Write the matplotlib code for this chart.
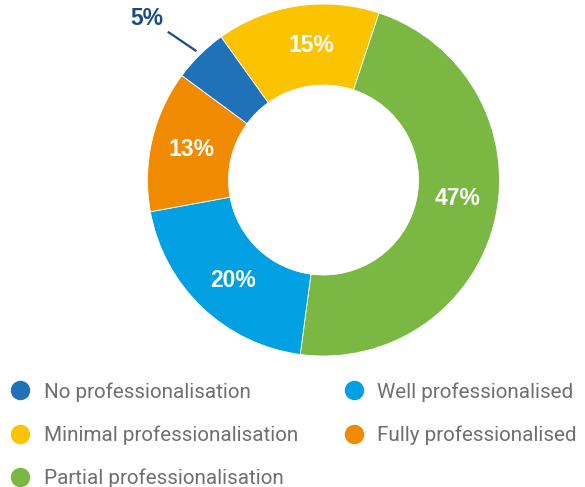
import numpy as np
import matplotlib
matplotlib.use("Agg")
import matplotlib.pyplot as plt
from matplotlib.lines import Line2D

# Share of organisations by level of professionalisation (clockwise from top)
categories = ["Minimal professionalisation", "Partial professionalisation",
              "Well professionalised", "Fully professionalised",
              "No professionalisation"]
shares = [15, 47, 20, 13, 5]
colors = ["#fcc400", "#7ab843", "#00a0e2", "#f08a00", "#1f72b8"]

legend_order = ["No professionalisation", "Minimal professionalisation",
                "Partial professionalisation", "Well professionalised",
                "Fully professionalised"]

# small angular nudges (degrees) for the in-ring value labels
label_nudge = [-3.4, 5.3, 1.6, 0.0, 0.0]

W, H = 585, 487
fig = plt.figure(figsize=(W / 100, H / 100), dpi=100)
ax = fig.add_axes([0, 0, 1, 1])

cx, cy = 323.5, H - 180
R = 176
ring = 81

wedges, _ = ax.pie(shares, colors=colors, startangle=125.6, counterclock=False,
                   radius=R, center=(cx, cy), frame=True,
                   wedgeprops=dict(width=ring, edgecolor="white", linewidth=0.6))
ax.set_xlim(0, W)
ax.set_ylim(0, H)
ax.set_aspect("equal")
ax.axis("off")

label_font = dict(family=["Liberation Sans", "DejaVu Sans"], weight="bold",
                  fontsize=16.5)
r_lab = R - ring / 2
for w, v, nd in zip(wedges, shares, label_nudge):
    mid = np.deg2rad((w.theta1 + w.theta2) / 2 + nd)
    if v < 10:
        # small slice: label outside with a leader line
        x0, y0 = cx + 181 * np.cos(mid), cy + 181 * np.sin(mid)
        x1, y1 = cx + 215 * np.cos(mid + np.deg2rad(1.8)), cy + 215 * np.sin(mid + np.deg2rad(1.8))
        ax.plot([x0, x1], [y0, y1], color="#1b4a86", lw=1.6, solid_capstyle="butt")
        ax.text(x1 - 4, y1 + 2, f"{v}%", color="#1b4a86", ha="right",
                va="bottom", **label_font)
    else:
        ax.text(cx + r_lab * np.cos(mid), cy + r_lab * np.sin(mid), f"{v}%",
                color="white", ha="center", va="center", **label_font)

color_of = dict(zip(categories, colors))
handles = [Line2D([], [], linestyle="none", marker="o", markersize=14,
                  markerfacecolor=color_of[c], markeredgecolor="none")
           for c in legend_order]
leg = ax.legend(handles, legend_order, ncol=2, loc="upper left",
                bbox_to_anchor=(8 / W, 1 - 378 / H), bbox_transform=ax.transAxes,
                frameon=False, borderpad=0, borderaxespad=0.2,
                handlelength=0.8, handletextpad=0.72, columnspacing=2.3,
                labelspacing=1.14,
                prop=dict(family=["Roboto", "DejaVu Sans"], weight="normal",
                          size=14.9))
for t in leg.get_texts():
    t.set_color("#6f6f6f")

fig.savefig("out.png", dpi=100)
